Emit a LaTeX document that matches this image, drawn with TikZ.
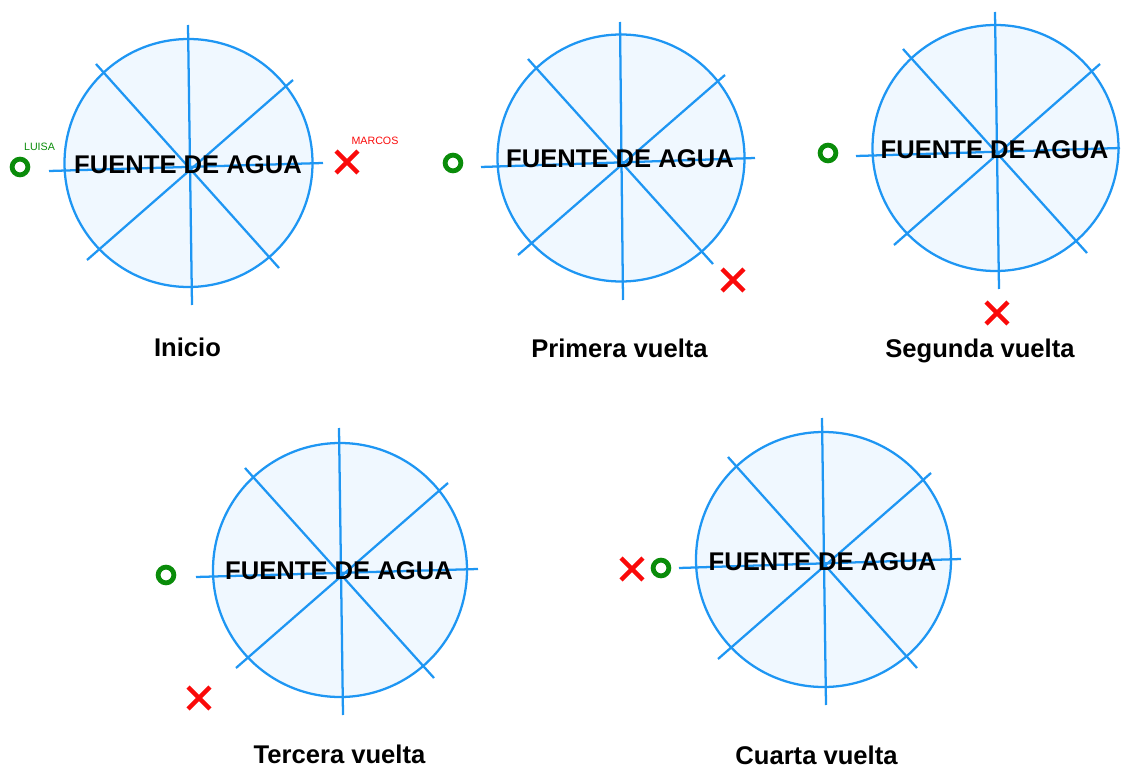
\documentclass[tikz,border=0pt]{standalone}
\usepackage{fontspec}
\setmainfont{Liberation Sans}
\usetikzlibrary{shapes.misc}
\definecolor{azulfuente}{RGB}{30,150,243}
\definecolor{agua}{RGB}{240,248,255}
\definecolor{verdeluisa}{RGB}{10,140,10}
\definecolor{rojomarcos}{RGB}{250,10,10}
\tikzset{fuente/.style={draw=azulfuente,line width=1.7pt,fill=agua}}
\tikzset{radio/.style={draw=azulfuente,line width=1.7pt}}
\tikzset{rotulo/.style={inner sep=0pt,anchor=base,
    font=\fontsize{19.2}{22}\selectfont\bfseries}}
\tikzset{nombre/.style={inner sep=0pt,font=\fontsize{8}{9}\selectfont}}
\tikzset{luisa/.style={circle,draw=verdeluisa,line width=3.6pt,
    minimum size=11.8pt,inner sep=0pt}}
\tikzset{marcos/.style={cross out,draw=rojomarcos,line width=3.4pt,
    minimum size=13pt,inner sep=0pt}}

\begin{document}
\begin{tikzpicture}[x=0.75pt,y=-0.75pt]

\useasboundingbox (0,0) rectangle (1122,770);

\pgfmathsetmacro{\ra}{124}
\pgfmathsetmacro{\rb}{123.5}
\pgfmathsetmacro{\rc}{123}
\pgfmathsetmacro{\rd}{127}
\pgfmathsetmacro{\re}{127.5}

% Inicio
\draw[fuente] (188.5,163) circle[radius=\ra];
\draw[radio] (188,25) -- (192,305);
\draw[radio] (49,171) -- (323,163);
\draw[radio] (96,64) -- (279,268);
\draw[radio] (293,80) -- (87,260);
\node[rotulo] (fuenteA) at (188,174) {FUENTE DE AGUA};
\node[luisa] (luisaA) at (20,167) {};
\node[marcos] (marcosA) at (347,162) {};
\node[nombre,text=verdeluisa] (nomluisa) at (39.5,147) {LUISA};
\node[nombre,text=rojomarcos] (nommarcos) at (375,141) {MARCOS};
\node[rotulo] (inicio) at (187.5,356) {Inicio};

% Primera vuelta
\draw[fuente] (621,158) circle[radius=\rb];
\draw[radio] (620,22) -- (623,300);
\draw[radio] (481,167) -- (755,158);
\draw[radio] (528,59) -- (713,264);
\draw[radio] (725,75) -- (518,255);
\node[rotulo] (fuenteB) at (620,168) {FUENTE DE AGUA};
\node[luisa] (luisaB) at (453,163) {};
\node[marcos] (marcosB) at (733,280) {};
\node[rotulo] (primera) at (619.5,357) {Primera vuelta};

% Segunda vuelta
\draw[fuente] (995.5,148) circle[radius=\rc];
\draw[radio] (995,12) -- (999,289);
\draw[radio] (856,156) -- (1120,148);
\draw[radio] (903,49) -- (1087,253);
\draw[radio] (1100,64) -- (894,245);
\node[rotulo] (fuenteC) at (994.5,159) {FUENTE DE AGUA};
\node[luisa] (luisaC) at (828,153) {};
\node[marcos] (marcosC) at (997,313) {};
\node[rotulo] (segunda) at (980,358) {Segunda vuelta};

% Tercera vuelta
\draw[fuente] (340,570) circle[radius=\rd];
\draw[radio] (339,428) -- (343,715);
\draw[radio] (196,577) -- (478,569);
\draw[radio] (245,468) -- (434,678);
\draw[radio] (448,483) -- (236,668);
\node[rotulo] (fuenteD) at (339,579) {FUENTE DE AGUA};
\node[luisa] (luisaD) at (166,575) {};
\node[marcos] (marcosD) at (199,698) {};
\node[rotulo] (tercera) at (339.5,763) {Tercera vuelta};

% Cuarta vuelta
\draw[fuente] (823.5,559.5) circle[radius=\re];
\draw[radio] (822,418) -- (826,705);
\draw[radio] (679,568) -- (961,559);
\draw[radio] (728,457) -- (917,668);
\draw[radio] (931,473) -- (718,659);
\node[rotulo] (fuenteE) at (822.5,570) {FUENTE DE AGUA};
\node[luisa] (luisaE) at (661,568) {};
\node[marcos] (marcosE) at (632,569) {};
\node[rotulo] (cuarta) at (816.5,764) {Cuarta vuelta};

\end{tikzpicture}
\end{document}
